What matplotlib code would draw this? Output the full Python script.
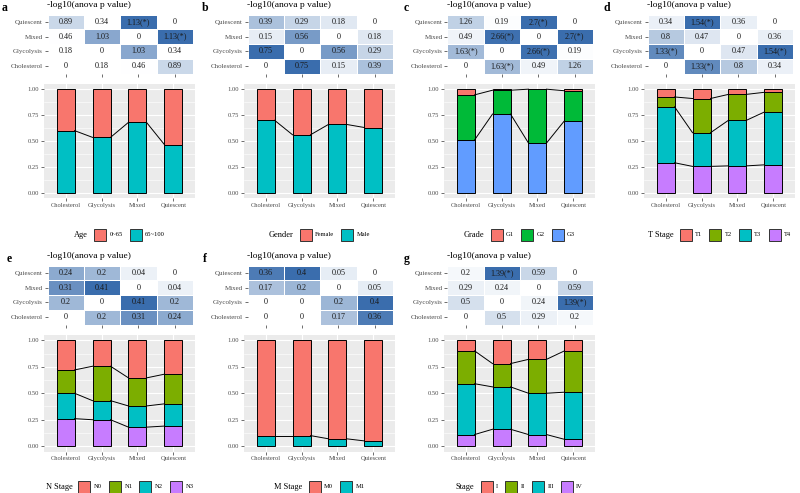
import matplotlib
matplotlib.use("Agg")
import matplotlib.pyplot as plt
import numpy as np
from matplotlib.colors import LinearSegmentedColormap, PowerNorm
from matplotlib.patches import Rectangle

plt.rcParams['font.family'] = ['Liberation Serif', 'DejaVu Serif']

W, H = 800, 493
fig = plt.figure(figsize=(8, 4.93), dpi=100)

groups = ["Cholesterol", "Glycolysis", "Mixed", "Quiescent"]
heat_rows = ["Quiescent", "Mixed", "Glycolysis", "Cholesterol"]

# ---------------- heatmap values (-log10 anova p) ----------------
heat_a = [[0.89, 0.34, 1.13, 0], [0.46, 1.03, 0, 1.13], [0.18, 0, 1.03, 0.34], [0, 0.18, 0.46, 0.89]]
star_a = [[0, 0, 1, 0], [0, 0, 0, 1], [0, 0, 0, 0], [0, 0, 0, 0]]
heat_b = [[0.39, 0.29, 0.18, 0], [0.15, 0.56, 0, 0.18], [0.75, 0, 0.56, 0.29], [0, 0.75, 0.15, 0.39]]
star_b = [[0, 0, 0, 0], [0, 0, 0, 0], [0, 0, 0, 0], [0, 0, 0, 0]]
heat_c = [[1.26, 0.19, 2.7, 0], [0.49, 2.66, 0, 2.7], [1.63, 0, 2.66, 0.19], [0, 1.63, 0.49, 1.26]]
star_c = [[0, 0, 1, 0], [0, 1, 0, 1], [1, 0, 1, 0], [0, 1, 0, 0]]
heat_d = [[0.34, 1.54, 0.36, 0], [0.8, 0.47, 0, 0.36], [1.33, 0, 0.47, 1.54], [0, 1.33, 0.8, 0.34]]
star_d = [[0, 1, 0, 0], [0, 0, 0, 0], [1, 0, 0, 1], [0, 1, 0, 0]]
heat_e = [[0.24, 0.2, 0.04, 0], [0.31, 0.41, 0, 0.04], [0.2, 0, 0.41, 0.2], [0, 0.2, 0.31, 0.24]]
star_e = [[0, 0, 0, 0], [0, 0, 0, 0], [0, 0, 0, 0], [0, 0, 0, 0]]
heat_f = [[0.36, 0.4, 0.05, 0], [0.17, 0.2, 0, 0.05], [0, 0, 0.2, 0.4], [0, 0, 0.17, 0.36]]
star_f = [[0, 0, 0, 0], [0, 0, 0, 0], [0, 0, 0, 0], [0, 0, 0, 0]]
heat_g = [[0.2, 1.39, 0.59, 0], [0.29, 0.24, 0, 0.59], [0.5, 0, 0.24, 1.39], [0, 0.5, 0.29, 0.2]]
star_g = [[0, 1, 0, 0], [0, 0, 0, 0], [0, 0, 0, 1], [0, 0, 0, 0]]

# ---------------- stacked proportions (first level drawn on top) ----------------
age_levels = ["0~65", "65~100"]
age_props = [[0.40, 0.465, 0.32, 0.535], [0.60, 0.535, 0.68, 0.465]]
gender_levels = ["Female", "Male"]
gender_props = [[0.30, 0.44, 0.34, 0.37], [0.70, 0.56, 0.66, 0.63]]
grade_levels = ["G1", "G2", "G3"]
grade_props = [[0.055, 0.01, 0.0, 0.015], [0.435, 0.23, 0.52, 0.29], [0.51, 0.76, 0.48, 0.695]]
t_levels = ["T1", "T2", "T3", "T4"]
t_props = [[0.075, 0.09, 0.05, 0.03], [0.095, 0.33, 0.25, 0.19],
           [0.54, 0.325, 0.44, 0.51], [0.29, 0.255, 0.26, 0.27]]
n_levels = ["N0", "N1", "N2", "N3"]
n_props = [[0.28, 0.245, 0.355, 0.32], [0.22, 0.325, 0.265, 0.28],
           [0.24, 0.18, 0.20, 0.21], [0.26, 0.25, 0.18, 0.19]]
m_levels = ["M0", "M1"]
m_props = [[0.90, 0.90, 0.93, 0.95], [0.10, 0.10, 0.07, 0.05]]
stage_levels = ["I", "II", "III", "IV"]
stage_props = [[0.10, 0.22, 0.18, 0.10], [0.31, 0.22, 0.32, 0.39],
               [0.48, 0.40, 0.39, 0.445], [0.11, 0.16, 0.11, 0.065]]

pal2 = ["#F8766D", "#00BFC4"]
pal3 = ["#F8766D", "#00BA38", "#619CFF"]
pal4 = ["#F8766D", "#7CAE00", "#00BFC4", "#C77CFF"]

panels = [
    ("a", 0, 0, 2, heat_a, star_a, "Age", age_levels, age_props, pal2, 5.5),
    ("b", 200, 0, 2, heat_b, star_b, "Gender", gender_levels, gender_props, pal2, 1.3),
    ("c", 400, 0, 4, heat_c, star_c, "Grade", grade_levels, grade_props, pal3, 1.5),
    ("d", 600, 0, 4, heat_d, star_d, "T Stage", t_levels, t_props, pal4, 1.5),
    ("e", 0, 1, 7, heat_e, star_e, "N Stage", n_levels, n_props, pal4, 1.0),
    ("f", 200, 1, 3, heat_f, star_f, "M Stage", m_levels, m_props, pal2, 1.0),
    ("g", 400, 1, 4, heat_g, star_g, "Stage", stage_levels, stage_props, pal4, 1.5),
]

cmap = LinearSegmentedColormap.from_list("wb", ["#FFFFFF", "#3A6DAD"])


def ax_px(x0, y0, x1, y1):
    return fig.add_axes([x0 / W, 1 - y1 / H, (x1 - x0) / W, (y1 - y0) / H])


renderer = fig.canvas.get_renderer()

for letter, cx, row, lx, heat, star, ltitle, levels, props, pal, gam in panels:
    oy = 0 if row == 0 else 251
    # ---------- heatmap ----------
    hx0, hx1 = cx + 47.5, cx + 193
    hy0, hy1 = oy + 14.5, oy + 73.5
    ax = ax_px(hx0, hy0, hx1, hy1)
    arr = np.array(heat, dtype=float)
    ax.pcolormesh(np.arange(5), np.arange(5), arr, cmap=cmap,
                  norm=PowerNorm(gamma=gam, vmin=0, vmax=arr.max()),
                  edgecolors="white", linewidth=0.6)
    for i in range(4):
        for j in range(4):
            lab = f"{heat[i][j]:g}" + ("(*)" if star[i][j] else "")
            ax.text(j + 0.5, i + 0.5, lab, ha="center", va="center",
                    fontsize=5.9, color="#1A1A1A")
    ax.set_xlim(0, 4)
    ax.set_ylim(4, 0)
    ax.set_xticks(np.arange(4) + 0.5)
    ax.set_xticklabels([])
    ax.set_yticks(np.arange(4) + 0.5)
    ax.set_yticklabels(heat_rows)
    ax.tick_params(length=2, width=0.5, color="#333333", labelsize=5.0,
                   labelcolor="#4D4D4D", pad=1.5)
    for s in ax.spines.values():
        s.set_visible(False)

    fig.text((cx + 47) / W, 1 - (oy + 5) / H, "-log10(anova p value)",
             ha="left", va="center", fontsize=6.8)
    fig.text((cx + lx) / W, 1 - (oy + 11) / H, letter, ha="left", va="baseline",
             fontsize=8.5, fontweight="bold")

    # ---------- stacked bars ----------
    by0 = oy + 84
    by1 = oy + 198 + (2.5 if row == 1 else 0)
    bx = ax_px(cx + 44, by0, cx + 195, by1)
    bx.set_facecolor("#EBEBEB")
    xs = np.arange(1, 5)
    bottom = np.zeros(4)
    bounds = []
    for k in range(len(levels) - 1, -1, -1):
        h = np.array(props[k])
        bx.bar(xs, h, bottom=bottom, width=0.5, color=pal[k],
               edgecolor="black", linewidth=0.7, zorder=3)
        bottom = bottom + h
        if k > 0:
            bounds.append(bottom.copy())
    for bnd in bounds:
        for i in range(3):
            bx.plot([xs[i] + 0.25, xs[i + 1] - 0.25], [bnd[i], bnd[i + 1]],
                    color="black", linewidth=0.7, zorder=4)
    bx.set_xlim(0.4, 4.6)
    bx.set_ylim(-0.05, 1.05)
    bx.set_xticks(xs)
    bx.set_xticklabels(groups)
    bx.set_yticks([0, 0.25, 0.5, 0.75, 1.0])
    bx.set_yticklabels(["0.00", "0.25", "0.50", "0.75", "1.00"])
    bx.set_yticks([0.125, 0.375, 0.625, 0.875], minor=True)
    bx.grid(True, which="major", color="white", linewidth=0.8, zorder=0)
    bx.grid(True, which="minor", axis="y", color="white", linewidth=0.4, zorder=0)
    bx.set_axisbelow(True)
    bx.tick_params(which="major", length=2, width=0.5, color="#333333",
                   labelsize=4.7, labelcolor="#4D4D4D", pad=1.5)
    bx.tick_params(which="minor", length=0)
    for s in bx.spines.values():
        s.set_visible(False)

    # ---------- legend ----------
    ly = oy + 235 + (1 if row == 1 else 0)
    lcx = cx + 119.5
    tt = fig.text(0, 0, ltitle, fontsize=6.0)
    tw = tt.get_window_extent(renderer).width
    lws = []
    lts = []
    for lv in levels:
        t = fig.text(0, 0, lv, fontsize=4.7)
        lws.append(t.get_window_extent(renderer).width)
        lts.append(t)
    box, pad, gap, tgap = 12, 3.5, 7, 6
    total = tw + tgap + sum(box + pad + w for w in lws) + gap * (len(levels) - 1)
    x = lcx - total / 2
    tt.set_position((x / W, 1 - ly / H))
    tt.set_va("center")
    x += tw + tgap
    for k, lv in enumerate(levels):
        fig.patches.append(Rectangle((x / W, 1 - (ly + box / 2) / H), box / W, box / H,
                                     transform=fig.transFigure, facecolor=pal[k],
                                     edgecolor="#333333", linewidth=0.7))
        x += box + pad
        lts[k].set_position((x / W, 1 - ly / H))
        lts[k].set_va("center")
        x += lws[k] + gap

fig.savefig("out.png", dpi=100)
